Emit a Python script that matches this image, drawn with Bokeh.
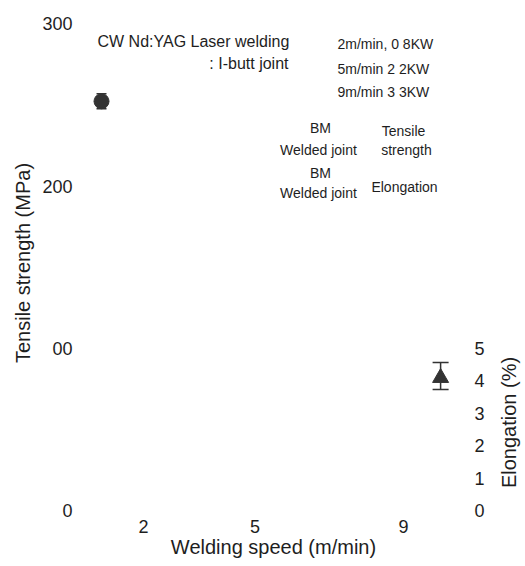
import math
from bokeh.plotting import figure
from bokeh.models import (Range1d, LinearAxis, FixedTicker, ColumnDataSource,
                          Whisker, TeeHead, Label)
from bokeh.embed import file_html
from bokeh.resources import INLINE

# ---- data ----
bm_speed = [0.87]
bm_tensile = [252.3]
bm_tensile_upper = [256.9]
bm_tensile_lower = [247.7]

wj_speed = [10.0]
wj_elong = [4.09]
wj_elong_upper = [4.56]
wj_elong_lower = [3.73]

x_ticks = [2, 5, 9]
y_ticks = [0, 100, 200, 300]
y_tick_labels = {0: "0", 100: "00", 200: "200", 300: "300"}
y2_ticks = [0, 1, 2, 3, 4, 5]

FONT = "Liberation Sans"
TXT = "#1e1e1e"
MARK = "#333333"

W, H = 525, 566
FL, FR, FT, FB = 80, 466, 10, 515   # frame edges in px

# pixel scale helpers (for placing annotation texts)
XPX0, XPPU = 68.7, 37.14
YPX0, YPPU = 510.0, 1.622

def dx(px):
    return (px - XPX0) / XPPU

def dy(py):
    return (YPX0 - py) / YPPU

p = figure(width=W, height=H, output_backend="svg", toolbar_location=None,
           x_range=Range1d(dx(FL), dx(FR)), y_range=Range1d(dy(FB), dy(FT)),
           min_border_left=FL, min_border_right=W - FR,
           min_border_top=FT, min_border_bottom=H - FB,
           y_axis_location=None, x_axis_location=None)
p.outline_line_color = None
p.background_fill_color = "white"
p.border_fill_color = "white"
p.xgrid.visible = False
p.ygrid.visible = False

p.extra_y_ranges = {"elong": Range1d(dy(FB) / 20.0, dy(FT) / 20.0)}

def style(ax, size):
    ax.axis_line_color = None
    ax.major_tick_line_color = None
    ax.minor_tick_line_color = None
    ax.major_tick_out = 0
    ax.major_tick_in = 0
    ax.major_label_text_font = FONT
    ax.major_label_text_font_size = size
    ax.major_label_text_color = TXT
    ax.axis_label_text_font = FONT
    ax.axis_label_text_font_size = "20px"
    ax.axis_label_text_font_style = "normal"
    ax.axis_label_text_color = TXT

xa = LinearAxis(ticker=FixedTicker(ticks=x_ticks), axis_label="Welding speed (m/min)")
style(xa, "18px")
xa.major_label_standoff = 4
xa.axis_label_standoff = 0
p.add_layout(xa, "below")

ya = LinearAxis(ticker=FixedTicker(ticks=y_ticks), axis_label="Tensile strength (MPa)")
style(ya, "18px")
ya.major_label_overrides = y_tick_labels
ya.major_label_standoff = 8
ya.axis_label_standoff = 5
p.add_layout(ya, "left")

ya2 = LinearAxis(y_range_name="elong", ticker=FixedTicker(ticks=y2_ticks))
style(ya2, "18px")
ya2.major_label_standoff = 8
p.add_layout(ya2, "right")

# right axis title, centred on the 0-5 part of the elongation scale
p.add_layout(Label(x=dx(508), y=dy(422), text="Elongation (%)", angle=math.pi / 2,
                   text_align="center", text_baseline="middle", text_font=FONT,
                   text_font_size="20px", text_color=TXT), "right")

# ---- data marks ----
src_bm = ColumnDataSource(dict(x=bm_speed, y=bm_tensile, up=bm_tensile_upper, lo=bm_tensile_lower))
src_wj = ColumnDataSource(dict(x=wj_speed, y=wj_elong, up=wj_elong_upper, lo=wj_elong_lower))

p.add_layout(Whisker(source=src_bm, base="x", upper="up", lower="lo", dimension="height",
                     line_color=MARK, line_width=1.5,
                     upper_head=TeeHead(size=10, line_color=MARK, line_width=1.5),
                     lower_head=TeeHead(size=10, line_color=MARK, line_width=1.5)))
p.scatter("x", "y", source=src_bm, marker="circle", size=15,
          fill_color=MARK, line_color=MARK)

p.add_layout(Whisker(source=src_wj, base="x", upper="up", lower="lo", dimension="height",
                     y_range_name="elong",
                     line_color=MARK, line_width=1.5,
                     upper_head=TeeHead(size=16, line_color=MARK, line_width=1.5),
                     lower_head=TeeHead(size=16, line_color=MARK, line_width=1.5)))
p.scatter("x", "y", source=src_wj, marker="triangle", size=16, y_range_name="elong",
          fill_color=MARK, line_color=MARK)

# ---- annotation texts (legend-like block) ----
texts = [
    ("CW Nd:YAG Laser welding", 97, 41, "left", "16px"),
    (": I-butt joint", 288, 63, "right", "16px"),
    ("2m/min, 0 8KW", 337, 43, "left", "14px"),
    ("5m/min  2 2KW", 337, 68, "left", "14px"),
    ("9m/min  3 3KW", 337, 91, "left", "14px"),
    ("BM", 320, 127, "center", "14px"),
    ("Welded joint", 318, 149, "center", "14px"),
    ("BM", 320, 172, "center", "14px"),
    ("Welded joint", 318, 192, "center", "14px"),
    ("Tensile", 403, 130, "center", "14px"),
    ("strength", 406, 149, "center", "14px"),
    ("Elongation", 404, 186, "center", "14px"),
]
for t, px, py, al, fs in texts:
    p.add_layout(Label(x=dx(px), y=dy(py), text=t, text_align=al,
                       text_baseline="middle", text_font=FONT,
                       text_font_size=fs, text_color=TXT))

open("out.html", "w").write(file_html(p, INLINE))
